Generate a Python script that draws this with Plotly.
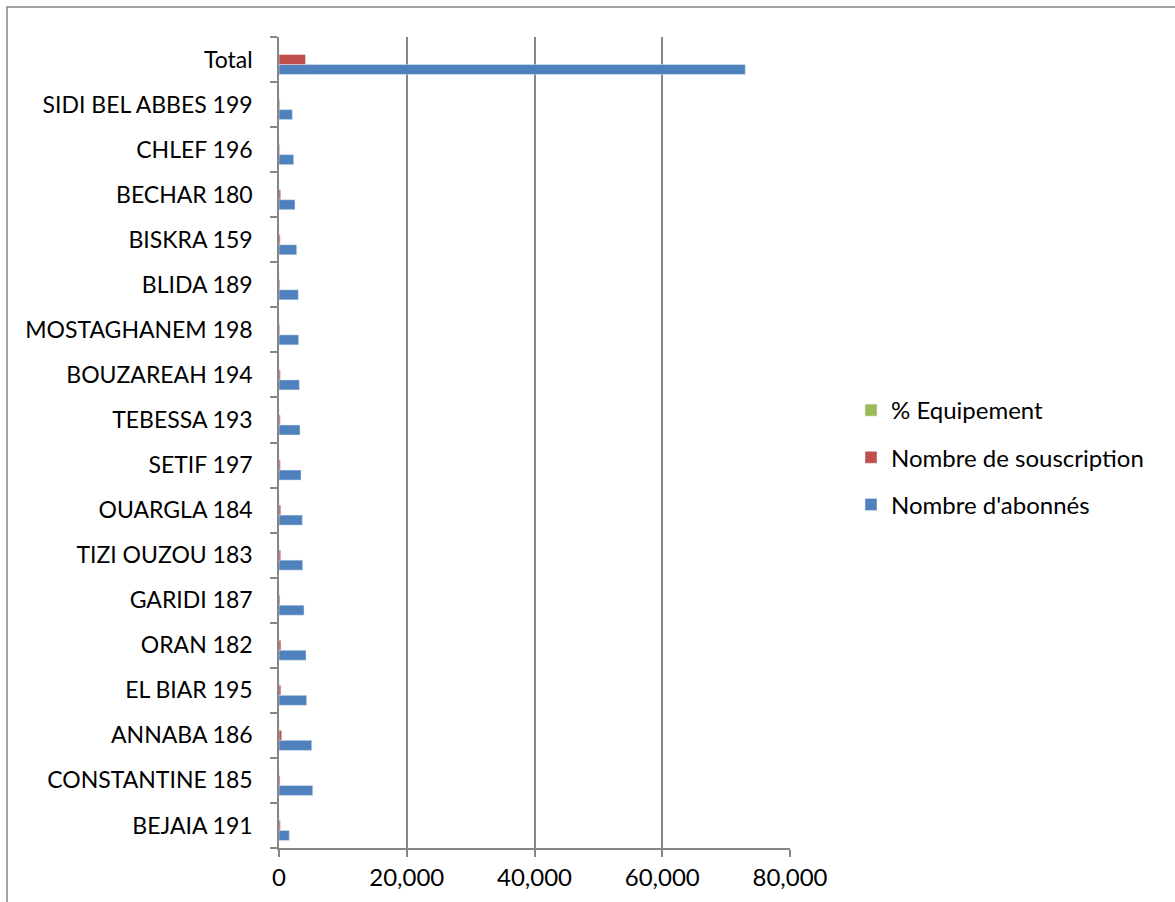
import plotly.graph_objects as go

# Agencies, listed bottom to top as on the category axis
categories = [
    "BEJAIA 191", "CONSTANTINE 185", "ANNABA 186", "EL BIAR 195", "ORAN 182",
    "GARIDI 187", "TIZI OUZOU 183", "OUARGLA 184", "SETIF 197", "TEBESSA 193",
    "BOUZAREAH 194", "MOSTAGHANEM 198", "BLIDA 189", "BISKRA 159", "BECHAR 180",
    "CHLEF 196", "SIDI BEL ABBES 199", "Total",
]

abonnes = [1610, 5280, 5120, 4330, 4230, 3920, 3710, 3660, 3450, 3290,
           3190, 3080, 3030, 2770, 2500, 2300, 2090, 73000]
souscription = [200, 160, 420, 290, 300, 150, 270, 280, 210, 190,
                200, 120, 130, 180, 260, 110, 120, 4150]
equipement = [12, 3, 8, 7, 7, 4, 7, 8, 6, 6,
              6, 4, 4, 6, 10, 5, 6, 6]

x_ticks = [0, 20000, 40000, 60000, 80000]

FONT = "Lato, 'Noto Sans', sans-serif"
GRID = "#868686"

fig = go.Figure()
fig.add_trace(go.Bar(y=categories, x=abonnes, orientation="h",
                     name="Nombre d'abonnés", marker_color="#4F81BD",
                     legendgroup="a", legendrank=3))
fig.add_trace(go.Bar(y=categories, x=souscription, orientation="h",
                     name="Nombre de souscription", marker_color="#C0504D",
                     legendgroup="b", legendrank=2))
fig.add_trace(go.Bar(y=categories, x=equipement, orientation="h",
                     name="% Equipement", marker_color="#9BBB59",
                     legendgroup="c", legendrank=1))

L, R, T, B = 279, 790, 37, 848
W, H = 1175, 902

def px_to_paper_x(px):
    return (px - L) / (R - L)

def px_to_paper_y(py):
    return (B - py) / (B - T)

fig.update_layout(
    width=W, height=H,
    margin=dict(l=L, r=W - R, t=T, b=H - B, pad=0),
    paper_bgcolor="white", plot_bgcolor="white",
    barmode="group", bargap=0.333, bargroupgap=0,
    font=dict(family=FONT, size=23, color="#000000"),
    legend=dict(
        x=px_to_paper_x(851), y=px_to_paper_y(388), xanchor="left", yanchor="top",
        traceorder="grouped", tracegroupgap=13,
        font=dict(family=FONT, size=24, color="#000000"),
        itemwidth=30, bgcolor="rgba(0,0,0,0)",
    ),
    xaxis=dict(
        range=[0, 80000], tickvals=x_ticks, tickformat=",d",
        showgrid=True, gridcolor=GRID, gridwidth=1.5,
        showline=True, linecolor=GRID, linewidth=1.5,
        ticks="outside", ticklen=7, tickcolor=GRID, tickwidth=1.5,
        zeroline=False, tickfont=dict(size=24),
    ),
    yaxis=dict(
        type="category", categoryorder="array", categoryarray=categories,
        tickson="boundaries", showgrid=False,
        showline=True, linecolor=GRID, linewidth=1.5,
        ticks="outside", ticklen=7, tickcolor=GRID, tickwidth=1.5,
        tickfont=dict(size=23), ticklabelstandoff=20,
    ),
    shapes=[dict(
        type="rect", xref="paper", yref="paper",
        x0=px_to_paper_x(7), x1=px_to_paper_x(1190),
        y0=px_to_paper_y(915), y1=px_to_paper_y(7),
        line=dict(color=GRID, width=1.5), fillcolor="rgba(0,0,0,0)", layer="below",
    )],
)

fig.write_html("out.html")
